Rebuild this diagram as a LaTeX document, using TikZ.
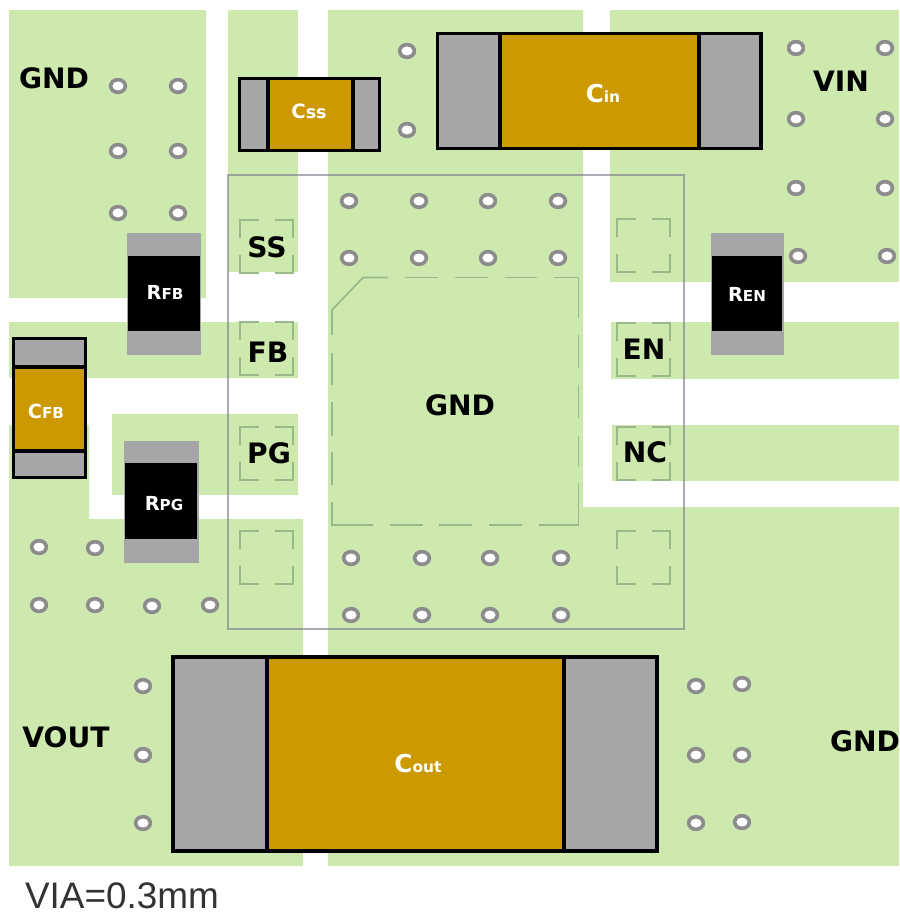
\documentclass[tikz,border=0pt]{standalone}
\usepackage{fontspec}
\setmainfont{DejaVu Sans}
\newfontfamily\viafont{Liberation Sans}
\usepackage{tikz}
\definecolor{CopperGreen}{HTML}{CDE9AE}
\definecolor{LeadGrey}{HTML}{A6A6A6}
\definecolor{BodyGold}{HTML}{CC9900}
\definecolor{PadLine}{HTML}{9AB98A}
\definecolor{ViaRing}{HTML}{8C8C8C}
\definecolor{OutlineGrey}{HTML}{777788}
\newcommand{\pinfont}{\fontsize{8}{9}\selectfont\bfseries}
\newcommand{\complabel}[4]{{\fontsize{#1}{#1}\selectfont\bfseries #3\fontsize{#2}{#2}\selectfont #4}}
\tikzset{
  netlabel/.style={font=\pinfont,text=black,inner sep=0pt},
  partlabel/.style={text=white,inner sep=0pt},
  padline/.style={draw=PadLine,line width=0.5pt},
  capline/.style={draw=black,line width=0.95pt}
}
\begin{document}
\begin{tikzpicture}[x=0.01cm,y=-0.01cm]
  \useasboundingbox (0,0) rectangle (899,913);
  \fill[white] (0,0) rectangle (899,913);
  % Copper
  \fill[CopperGreen] (9,10) rectangle (206,298);
  \fill[CopperGreen] (228,10) rectangle (298,272);
  \fill[CopperGreen] (9,322) rectangle (298,378);
  \fill[CopperGreen] (112,414) rectangle (298,495);
  \fill[CopperGreen] (9,425) -- (89,425) -- (89,519) -- (303,519) -- (303,866) -- (9,866) -- cycle;
  \fill[CopperGreen] (328,10) -- (583,10) -- (583,507) -- (899,507) -- (899,866) -- (328,866) -- cycle;
  \fill[CopperGreen] (610,10) rectangle (899,282);
  \fill[CopperGreen] (611,322) rectangle (899,379);
  \fill[CopperGreen] (612,425) rectangle (899,481);
  % Pad outlines
  \foreach \xp/\yp in {240/220,240/322,240/427,240/531,617/219,617/323,617/427,617/531} {
    \draw[padline] (\xp,\yp+18) -- (\xp,\yp) -- (\xp+19,\yp);
    \draw[padline] (\xp+35,\yp) -- (\xp+53,\yp) -- (\xp+53,\yp+18);
    \draw[padline] (\xp+53,\yp+35) -- (\xp+53,\yp+53) -- (\xp+35,\yp+53);
    \draw[padline] (\xp+19,\yp+53) -- (\xp,\yp+53) -- (\xp,\yp+35);
  }
  % Thermal pad
  \draw[padline] (332,335) -- (332,310) -- (363,277.5) -- (388,277.5);
  \foreach \xa/\xb in {405/438,455/488,505/537} {
    \draw[padline] (\xa,277.5) -- (\xb,277.5);
  }
  \draw[padline] (554,277.5) -- (578.5,277.5) -- (578.5,318);
  \foreach \ya/\yb in {335/368,385/418,436/467} {
    \draw[padline] (578.5,\ya) -- (578.5,\yb);
  }
  \draw[padline] (578.5,483) -- (578.5,525) -- (539,525);
  \foreach \xa/\xb in {522/489,472/439,423/390} {
    \draw[padline] (\xa,525) -- (\xb,525);
  }
  \draw[padline] (373,525) -- (332,525) -- (332,502);
  \foreach \ya/\yb in {485/452,436/402,385/353} {
    \draw[padline] (332,\ya) -- (332,\yb);
  }
  % Package outline
  \draw[OutlineGrey,opacity=0.6,line width=0.5pt] (228,175) rectangle (684,629);
  % Vias
  \foreach \xv/\yv in {118/86,178/86,118/151,178/151,118/213,178/213,407/51,407/130,
    796/48,885/48,796/119,885/119,796/188,885/188,798/256,887/256,
    349/201,419/201,488/201,558/201,349/258,419/258,488/258,558/258,
    351/558,422/558,490/558,561/558,351/615,422/615,490/615,561/615,
    39/547,95/548,39/605,95/605,152/606,210/605,143/686,143/755,143/823,
    696/686,742/684,696/755,742/755,696/823,742/822} {
    \fill[ViaRing] (\xv,\yv) ellipse (9.2 and 8.2);
    \fill[white] (\xv,\yv) ellipse (5.6 and 4.5);
  }
  % Resistors
  \foreach \xr/\yr/\wr in {127/233/74,124/441/75,711/233/73} {
    \fill[LeadGrey] (\xr,\yr) rectangle (\xr+\wr,\yr+122);
  }
  \fill[black] (128,256) rectangle (200,331);
  \fill[black] (125,463) rectangle (197,539);
  \fill[black] (712,256) rectangle (782,331);
  % Capacitors
  \draw[capline,fill=LeadGrey] (13.5,338.5) rectangle (85.5,477.5);
  \draw[capline,fill=BodyGold] (13.5,367) rectangle (85.5,451);
  \draw[capline,fill=LeadGrey] (239.5,78.5) rectangle (379.5,150.5);
  \draw[capline,fill=BodyGold] (268,78.5) rectangle (353,150.5);
  \draw[capline,fill=LeadGrey] (437.5,33.5) rectangle (761,148.5);
  \draw[capline,fill=BodyGold] (500,33.5) rectangle (699,148.5);
  \draw[capline,fill=LeadGrey] (173,657) rectangle (657,851);
  \draw[capline,fill=BodyGold] (267,657) rectangle (564,851);
  % Labels
  \node[netlabel] (gndtl) at (54,78) {GND};
  \node[netlabel] (vin) at (841,81) {VIN};
  \node[netlabel] (ss) at (267,247) {SS};
  \node[netlabel] (fb) at (268,352) {FB};
  \node[netlabel] (pg) at (269,453) {PG};
  \node[netlabel] (en) at (644,349) {EN};
  \node[netlabel] (nc) at (645,452) {NC};
  \node[netlabel] (gndc) at (460,405) {GND};
  \node[netlabel] (vout) at (66,737) {VOUT};
  \node[netlabel] (gndbr) at (865,741) {GND};
  \node[partlabel] (rfb) at (165,292) {\complabel{5.5}{4.3}{R}{FB}};
  \node[partlabel] (rpg) at (164,504) {\complabel{5.5}{4.3}{R}{PG}};
  \node[partlabel] (ren) at (747,294) {\complabel{5.5}{4.3}{R}{EN}};
  \node[partlabel] (cfb) at (46,411) {\complabel{5.5}{4.3}{C}{FB}};
  \node[partlabel] (css) at (309,111) {\complabel{5.6}{5}{C}{ss}};
  \node[partlabel] (cin) at (603,94) {\complabel{7}{4.4}{C}{in}};
  \node[partlabel] (cout) at (418,764) {\complabel{7}{4.4}{C}{out}};
  \node[inner sep=0pt,text=black!80,font=\viafont\fontsize{10.5}{12}\selectfont] (via) at (122,896) {VIA=0.3mm};
\end{tikzpicture}
\end{document}
